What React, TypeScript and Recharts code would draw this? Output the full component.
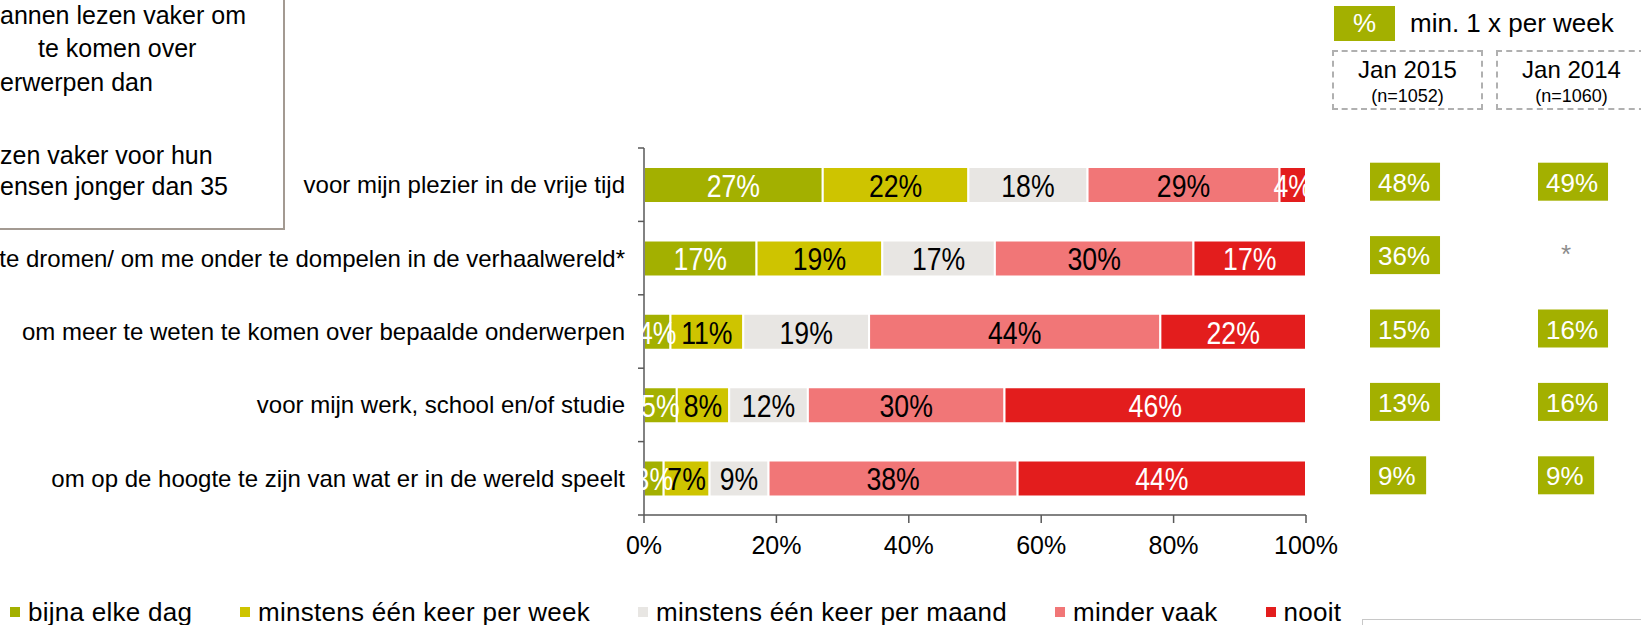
import React from 'react';
import { BarChart, Bar, XAxis, YAxis, LabelList } from 'recharts';

const categories = [
  'voor mijn plezier in de vrije tijd',
  'om te dromen/ om me onder te dompelen in de verhaalwereld*',
  'om meer te weten te komen over bepaalde onderwerpen',
  'voor mijn werk, school en/of studie',
  'om op de hoogte te zijn van wat er in de wereld speelt',
];
const bijnaElkeDag = [27, 17, 4, 5, 3];
const perWeek = [22, 19, 11, 8, 7];
const perMaand = [18, 17, 19, 12, 9];
const minderVaak = [29, 30, 44, 30, 38];
const nooit = [4, 17, 22, 46, 44];
const jan2015 = [48, 36, 15, 13, 9];
const jan2014: (number | null)[] = [49, null, 16, 16, 9];
const xTicks = [0, 0.2, 0.4, 0.6, 0.8, 1];

const FONT = '"Liberation Sans", Arial, sans-serif';
const GREEN = '#A3B000';

const series = [
  { key: 'dag', name: 'bijna elke dag', values: bijnaElkeDag, color: GREEN, text: '#fff' },
  { key: 'week', name: 'minstens één keer per week', values: perWeek, color: '#CEC400', text: '#000' },
  { key: 'maand', name: 'minstens één keer per maand', values: perMaand, color: '#E8E6E3', text: '#000' },
  { key: 'minder', name: 'minder vaak', values: minderVaak, color: '#F17677', text: '#000' },
  { key: 'nooit', name: 'nooit', values: nooit, color: '#E31D1D', text: '#fff' },
];

const data = categories.map((name, i) => {
  const row: Record<string, any> = { name };
  series.forEach(s => { row[s.key] = s.values[i]; });
  return row;
});

const LeftTick = (props: any) => {
  const { x, y, payload, index } = props;
  const half = payload?.offset ?? 36.7;
  const last = index === categories.length - 1;
  return (
    <g>
      <text x={x - 19} y={y} textAnchor="end" dominantBaseline="central" fontSize={24} fill="#000" fontFamily={FONT}>
        {payload.value}
      </text>
      <line x1={x - 6} x2={x} y1={y - half} y2={y - half} stroke="#595959" strokeWidth={1.5} />
      {last && <line x1={x - 6} x2={x} y1={y + half} y2={y + half} stroke="#595959" strokeWidth={1.5} />}
    </g>
  );
};

const boxWidth = (v: number) => 20 + 25 * (0.556 * String(v).length + 0.889);

const RightTick = (props: any) => {
  const { x, y, index } = props;
  const cols = [jan2015[index], jan2014[index]];
  const lefts = [x + 64, x + 232];
  return (
    <g>
      {cols.map((v, i) =>
        v == null ? (
          <text key={i} x={lefts[i] + 28} y={y - 4} textAnchor="middle" dominantBaseline="central" fontSize={26} fill="#8c8c8c" fontFamily={FONT}>*</text>
        ) : (
          <g key={i}>
            <rect x={lefts[i]} y={y - 22} width={boxWidth(v)} height={38} fill={GREEN} />
            <text x={lefts[i] + 8} y={y - 2} dominantBaseline="central" fontSize={26} fill="#fff" fontFamily={FONT}>{`${v}%`}</text>
          </g>
        )
      )}
    </g>
  );
};

const makeLabel = (fill: string) => (p: any) => {
  const { x, y, width, height, value } = p;
  const cx = Number(x) + Number(width) / 2;
  const cy = Number(y) + Number(height) / 2;
  return (
    <text transform={`translate(${cx},${cy + 1}) scale(0.86,1)`} textAnchor="middle" dominantBaseline="central"
      fontSize={31} fill={fill} fontFamily={FONT}>{`${value}%`}</text>
  );
};

const abs = (style: React.CSSProperties): React.CSSProperties => ({ position: 'absolute', fontFamily: FONT, color: '#000', whiteSpace: 'nowrap', ...style });

const noteLines = [
  { text: 'annen lezen vaker om', left: 0, top: 15 },
  { text: 'te komen over', left: 38, top: 48 },
  { text: 'erwerpen dan', left: 0, top: 82 },
  { text: 'zen vaker voor hun', left: 0, top: 155 },
  { text: 'ensen jonger dan 35', left: 0, top: 186 },
];

export default function App() {
  return (
    <div style={{ position: 'absolute', left: 0, top: 0, width: 1641, height: 625, overflow: 'hidden', background: '#fff' }}>
      <div style={abs({ left: -10, top: -10, width: 291, height: 236, border: '2px solid #A39A92' })} />
      {noteLines.map((l, i) => (
        <div key={i} style={abs({ left: l.left, top: l.top - 15, fontSize: 25, lineHeight: '30px' })}>{l.text}</div>
      ))}

      <div style={abs({ left: 1334, top: 6, width: 61, height: 35, background: GREEN, color: '#fff', fontSize: 26, lineHeight: '35px', textAlign: 'center' })}>%</div>
      <div style={abs({ left: 1410, top: 6, fontSize: 26, lineHeight: '35px' })}>min. 1 x per week</div>
      {[{ l: 1332, w: 151, t: 'Jan 2015', n: '(n=1052)' }, { l: 1496, w: 200, t: 'Jan 2014', n: '(n=1060)' }].map((h, i) => (
        <div key={i} style={abs({ left: h.l, top: 50, width: h.w, height: 60, boxSizing: 'border-box', border: '2px dashed #B0B0B0' })}>
          <div style={{ fontSize: 24, lineHeight: '24px', marginTop: 6, width: 147, textAlign: 'center' }}>{h.t}</div>
          <div style={{ fontSize: 18, lineHeight: '20px', marginTop: 4, width: 147, textAlign: 'center' }}>{h.n}</div>
        </div>
      ))}

      <div style={{ position: 'absolute', left: 0, top: 0 }}>
        <BarChart width={1641} height={625} data={data} layout="vertical" stackOffset="expand" barSize={36}
          margin={{ top: 148, right: 0, bottom: 70, left: 0 }}>
          <XAxis type="number" domain={[0, 1]} ticks={xTicks} tickFormatter={(v: number) => `${Math.round(v * 100)}%`}
            height={40} tickSize={8} tickMargin={13} stroke="#595959" strokeWidth={1.5}
            tick={{ fontSize: 25, fill: '#000', fontFamily: FONT }} />
          <YAxis yAxisId="left" type="category" dataKey="name" width={644} interval={0} tickSize={0} tickMargin={0}
            tickLine={false} axisLine={{ stroke: '#595959', strokeWidth: 1.5 }} tick={<LeftTick />} />
          <YAxis yAxisId="right" orientation="right" type="category" dataKey="name" width={335} interval={0}
            tickSize={0} tickMargin={0} tickLine={false} axisLine={false} tick={<RightTick />} />
          {series.map(s => (
            <Bar key={s.key} yAxisId="left" dataKey={s.key} name={s.name} stackId="a" fill={s.color}
              stroke="#fff" strokeWidth={2} isAnimationActive={false}>
              <LabelList dataKey={s.key} content={makeLabel(s.text)} />
            </Bar>
          ))}
        </BarChart>
      </div>

      <div style={abs({ left: 10, top: 599, display: 'flex', alignItems: 'center', gap: 48, fontSize: 26, lineHeight: '26px', letterSpacing: 0.26 })}>
        {series.map(s => (
          <div key={s.key} style={{ display: 'flex', alignItems: 'center' }}>
            <span style={{ width: 10, height: 10, background: s.color, marginRight: 8, display: 'inline-block' }} />
            <span>{s.name}</span>
          </div>
        ))}
      </div>
      <div style={abs({ left: 1362, top: 619, width: 300, height: 20, borderTop: '1px solid #C8C8C8', borderLeft: '1px solid #C8C8C8' })} />
    </div>
  );
}
